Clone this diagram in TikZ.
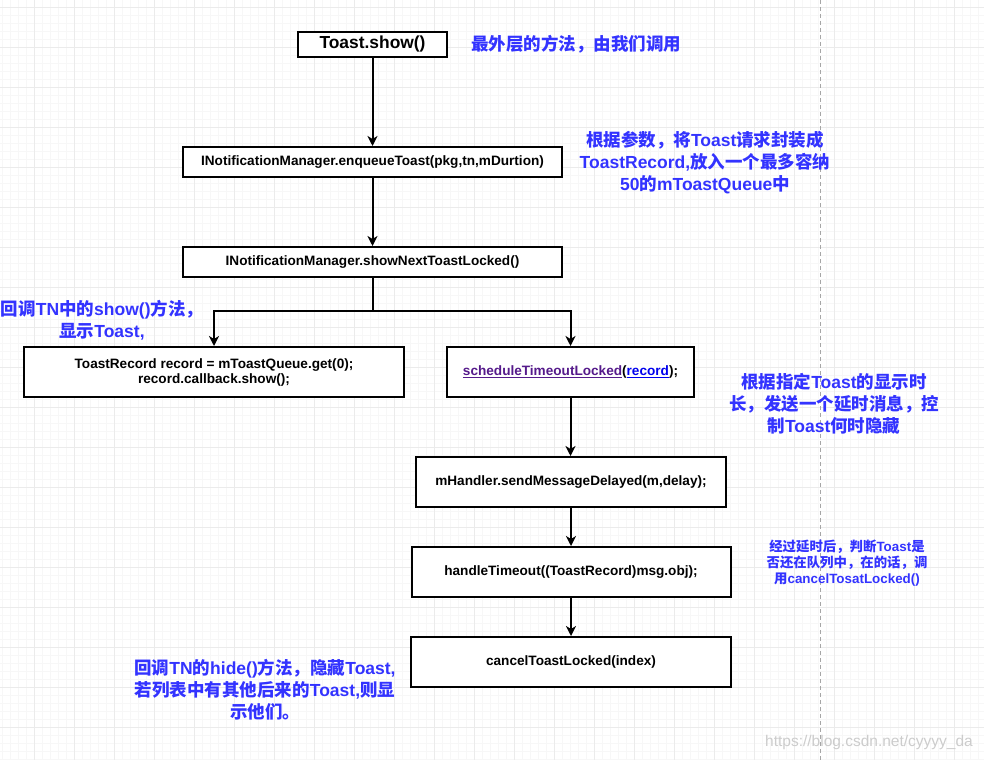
\documentclass[tikz,border=0pt]{standalone}
\usepackage{fontspec}
\setmainfont{Liberation Sans}
\newfontfamily\cjk{Noto Sans CJK SC}
\usetikzlibrary{arrows.meta}
\definecolor{notecol}{RGB}{51,51,255}
\definecolor{visited}{RGB}{85,26,139}
\definecolor{linkblue}{RGB}{0,0,238}
\newcommand{\zh}[1]{{\cjk #1}}
\tikzset{
  minorgrid/.style={draw=black!3, line width=0.8pt},
  majorgrid/.style={draw=black!8, line width=0.8pt},
  box/.style={draw=black, line width=2pt, fill=white, inner sep=0pt, align=center,
    font=\bfseries\fontsize{13.6}{15}\selectfont},
  arr/.style={draw=black, line width=2pt, -{Stealth[length=10pt,width=10pt,inset=3pt]}},
  plain/.style={draw=black, line width=2pt},
  note/.style={text=notecol, align=center, inner sep=0pt,
    font=\bfseries\fontsize{17.5}{22}\selectfont},
  smallnote/.style={text=notecol, align=center, inner sep=0pt,
    font=\bfseries\fontsize{13.4}{16}\selectfont},
}
\begin{document}
\begin{tikzpicture}[x=1pt,y=-1pt]
\useasboundingbox (0,0) rectangle (984,760);
\fill[white] (0,0) rectangle (984,760);
% grid
\foreach \x in {2,10,...,984} { \draw[minorgrid] (\x,0) -- (\x,760); }
\foreach \y in {7,15,...,760} { \draw[minorgrid] (0,\y) -- (984,\y); }
\foreach \x in {34,74,...,984} { \draw[majorgrid] (\x,0) -- (\x,760); }
\foreach \y in {7,47,...,760} { \draw[majorgrid] (0,\y) -- (984,\y); }
\draw[black!35, line width=1pt, dash pattern=on 4pt off 3pt] (820,0) -- (820,760);

% boxes
\node[box, minimum width=149pt, minimum height=25pt, font=\bfseries\fontsize{17.4}{20}\selectfont] (show) at (372.5,44.5) {Toast.show()};
\node[box, minimum width=379pt, minimum height=30pt] (enq) at (372.5,162) {INotificationManager.enqueueToast(pkg,tn,mDurtion)};
\node[box, minimum width=379pt, minimum height=30pt] (next) at (372.5,262) {INotificationManager.showNextToastLocked()};
\node[box, minimum width=380pt, minimum height=50pt] (rec) at (214,372) {ToastRecord record = mToastQueue.get(0);\\record.callback.show();};
\node[box, minimum width=247pt, minimum height=50pt] (sched) at (570.5,372) {\textcolor{visited}{\underline{scheduleTimeoutLocked}}(\textcolor{linkblue}{\underline{record}});};
\node[box, minimum width=310pt, minimum height=50pt] (handler) at (571,482) {mHandler.sendMessageDelayed(m,delay);};
\node[box, minimum width=319pt, minimum height=50pt] (timeout) at (571,572) {handleTimeout((ToastRecord)msg.obj);};
\node[box, minimum width=320pt, minimum height=50pt] (cancel) at (571,662) {cancelToastLocked(index)};

% connectors
\coordinate (split) at (372.5,311);
\draw[arr] (show) -- (enq);
\draw[arr] (enq) -- (next);
\draw[plain] (next.south) -- (split);
\draw[arr] (split) -| (rec.north);
\draw[arr] (split) -| (sched.north);
\draw[arr] (sched.south) -- (sched.south |- handler.north);
\draw[arr] (handler) -- (timeout);
\draw[arr] (timeout) -- (cancel);

% notes
\node[note, anchor=west] (n1) at (471,44) {\zh{最外层的方法，由我们调用}};
\node[note] (n2) at (705,163) {\zh{根据参数，将}Toast\zh{请求封装成}\\ToastRecord,\zh{放入一个最多容纳}\\50\zh{的}mToastQueue\zh{中}};
\node[note] (n3) at (102,320.5) {\zh{回调}TN\zh{中的}show()\zh{方法，}\\\zh{显示}Toast,};
\node[note] (n4) at (834,403.5) {\zh{根据指定}Toast\zh{的显示时}\\\zh{长，发送一个延时消息，控}\\\zh{制}Toast\zh{何时隐藏}};
\node[smallnote] (n5) at (847,563) {\zh{经过延时后，判断}Toast\zh{是}\\\zh{否还在队列中，在的话，调}\\\zh{用}cancelTosatLocked()};
\node[note] (n6) at (265,690) {\zh{回调}TN\zh{的}hide()\zh{方法，隐藏}Toast,\\\zh{若列表中有其他后来的}Toast,\zh{则显}\\\zh{示他们。}};
\node[anchor=east, text=black!20, inner sep=0pt, font=\fontsize{15.5}{17}\selectfont] (wm) at (973,742) {https://blog.csdn.net/cyyyy\_da};
\end{tikzpicture}
\end{document}
